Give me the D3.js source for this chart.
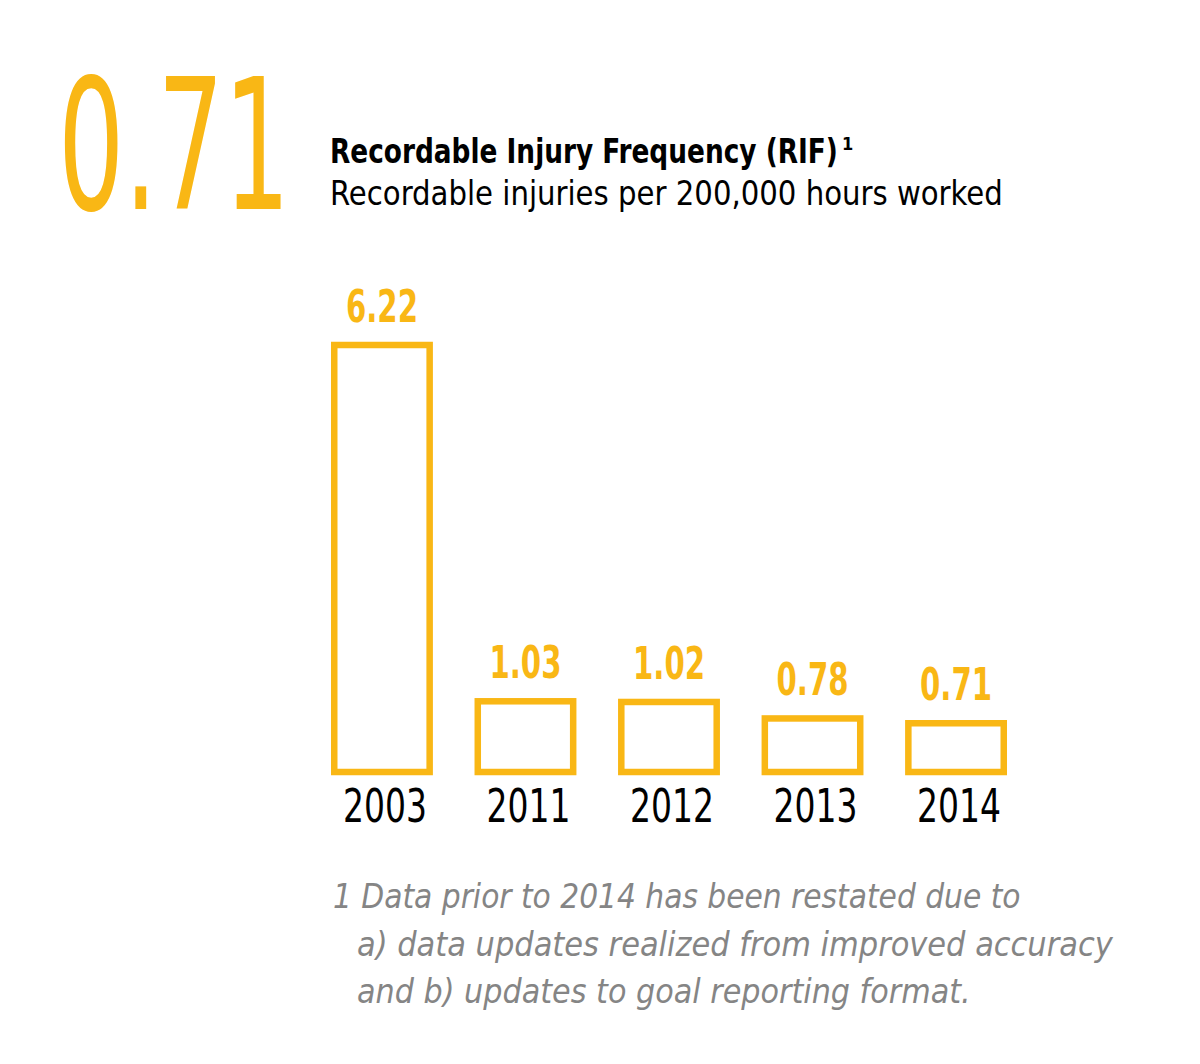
<!DOCTYPE html>
<html>
<head>
<meta charset="utf-8">
<script src="https://cdn.jsdelivr.net/npm/d3@7"></script>
<style>
  body { margin: 0; background: #fff; }
  svg text { font-family: "Liberation Sans Narrow", "DejaVu Sans Condensed", "Roboto", sans-serif; }
</style>
</head>
<body>
<div class="usable"></div>
<script>
// datos del grafico
const years = ["2003", "2011", "2012", "2013", "2014"]
const rif = [6.22, 1.03, 1.02, 0.78, 0.71]
const valueLabels = ["6.22", "1.03", "1.02", "0.78", "0.71"]
const footnote = [
  "1 Data prior to 2014 has been restated due to",
  "a) data updates realized from improved accuracy",
  "and b) updates to goal reporting format."
]

const width = 1200,
  height = 1064
const yellow = "#F9B715"
const strokeW = 6.5

let svg = d3.select(".usable").append("svg")
  .attr("width", width)
  .attr("height", height)

// ajusta el ancho del texto escalando en horizontal
function ajustarAncho(sel, w) {
  sel.each(function (d, i) {
    let target = typeof w === "function" ? w(d, i) : w
    let len = this.getComputedTextLength()
    let s = target / len
    let x = +this.getAttribute("x"), y = +this.getAttribute("y")
    this.setAttribute("x", 0)
    this.setAttribute("y", 0)
    this.setAttribute("transform", "translate(" + x + "," + y + ") scale(" + s + ",1)")
  })
}

// numero grande
svg.append("text").text("0.71")
  .attr("x", 58).attr("y", 209)
  .attr("font-size", 182).attr("font-weight", 300)
  .attr("fill", yellow)
  .call(ajustarAncho, 232)

// titulo
svg.append("text").text("Recordable Injury Frequency (RIF)")
  .attr("x", 330).attr("y", 163)
  .attr("font-size", 33).attr("font-weight", "bold").attr("fill", "#000")
  .call(ajustarAncho, 508)
svg.append("text").text("1")
  .attr("x", 842).attr("y", 150)
  .attr("font-size", 18).attr("font-weight", "bold").attr("fill", "#000")
svg.append("text").text("Recordable injuries per 200,000 hours worked")
  .attr("x", 330).attr("y", 205)
  .attr("font-size", 34).attr("fill", "#000")
  .call(ajustarAncho, 673)

// escalas
let x = d3.scaleBand().domain(years).range([331, 1007]).paddingInner(0.29).paddingOuter(0)
let y = d3.scaleLinear().domain([0, 6.22]).range([772, 345])

let bars = svg.append("g").selectAll("g").data(years).join("g")

bars.append("rect")
  .attr("x", d => x(d) + strokeW / 2)
  .attr("width", x.bandwidth() - strokeW)
  .attr("y", (d, i) => y(rif[i]))
  .attr("height", (d, i) => y(0) - y(rif[i]))
  .attr("fill", "none")
  .attr("stroke", yellow)
  .attr("stroke-width", strokeW)

bars.append("text")
  .text((d, i) => valueLabels[i])
  .attr("x", d => x(d) + x.bandwidth() / 2)
  .attr("y", (d, i) => y(rif[i]) - 23)
  .attr("text-anchor", "middle")
  .attr("font-size", 44).attr("font-weight", "bold")
  .attr("fill", yellow)
  .call(ajustarAncho, 72)

// eje de años
bars.append("text")
  .text(d => d)
  .attr("x", d => x(d) + x.bandwidth() / 2 + 3)
  .attr("y", 822)
  .attr("text-anchor", "middle")
  .attr("font-size", 47)
  .attr("fill", "#000")
  .call(ajustarAncho, 84)

// nota al pie
const footX = [333, 357, 357]
const footLen = [688, 756, 614]
svg.append("g").selectAll("text").data(footnote).join("text")
  .text(d => d)
  .attr("x", (d, i) => footX[i])
  .attr("y", (d, i) => 908 + i * 47.5)
  .attr("font-size", 34).attr("font-style", "italic")
  .attr("fill", "#858585")
  .call(ajustarAncho, (d, i) => footLen[i])
</script>
</body>
</html>
